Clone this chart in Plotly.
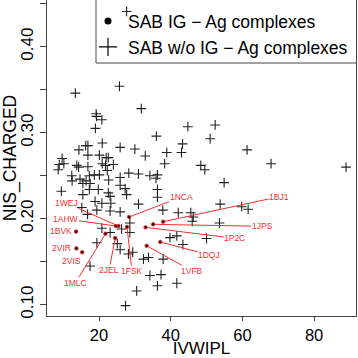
import plotly.graph_objects as go

# ---------------- data ----------------
# SAB w/o IG - Ag complexes (crosses)
other_ivwipl = [27.7, 13.4, 25.7, 31.8, 19.2, 19.3, 20.8, 19.0, 36.0, 44.8, 52.4, 43.3, 43.0, 51.0,
                61.3, 68.0, 88.9, 20.9, 16.3, 16.9, 14.4, 25.9, 30.0, 38.9, 16.9, 20.1, 22.0, 22.6,
                32.9, 9.7, 8.9, 10.2, 13.8, 14.3, 16.9, 20.9, 21.8, 24.0, 38.3, 8.6, 22.3, 48.4,
                49.5, 12.4, 12.5, 14.7, 16.4, 17.3, 18.7, 20.1, 22.7, 25.9, 28.3, 31.0, 34.2, 35.9,
                36.3, 54.9, 17.5, 15.5, 9.5, 15.5, 17.3, 19.8, 22.6, 27.3, 25.9, 27.7, 36.3, 36.3,
                23.1, 18.9, 20.8, 23.3, 31.0, 15.2, 19.4, 23.1, 25.9, 16.8, 37.8, 42.1, 45.6, 46.3,
                53.8, 59.8, 61.6, 46.0, 53.6, 28.6, 28.6, 20.8, 23.1, 39.8, 41.7, 50.0, 43.4, 19.4,
                25.1, 25.9, 28.2, 29.4, 32.4, 33.8, 17.5, 34.2, 37.3, 37.9, 36.3, 41.7, 30.5, 27.4,
                26.3]
other_nis = [0.441, 0.346, 0.354, 0.328, 0.322, 0.319, 0.315, 0.305, 0.296, 0.307, 0.309, 0.287, 0.277, 0.293,
             0.280, 0.264, 0.260, 0.288, 0.285, 0.285, 0.280, 0.283, 0.281, 0.277, 0.274, 0.274, 0.271, 0.271,
             0.273, 0.270, 0.263, 0.264, 0.262, 0.260, 0.2605, 0.264, 0.262, 0.263, 0.264, 0.257, 0.256, 0.262,
             0.257, 0.250, 0.244, 0.246, 0.244, 0.250, 0.251, 0.251, 0.245, 0.248, 0.253, 0.252, 0.250, 0.247,
             0.251, 0.242, 0.241, 0.241, 0.232, 0.228, 0.234, 0.234, 0.230, 0.235, 0.239, 0.228, 0.234, 0.225,
             0.226, 0.220, 0.218, 0.218, 0.217, 0.213, 0.210, 0.209, 0.208, 0.205, 0.210, 0.207, 0.207, 0.202,
             0.217, 0.214, 0.211, 0.197, 0.195, 0.195, 0.184, 0.189, 0.184, 0.178, 0.180, 0.177, 0.170, 0.172,
             0.171, 0.164, 0.159, 0.161, 0.153, 0.155, 0.145, 0.134, 0.135, 0.153, 0.122, 0.125, 0.116, 0.099,
             0.188]

# SAB IG - Ag complexes (labelled dots)
ig_pdb = ["1NCA", "1WEJ", "1AHW", "1FSK", "1BVK", "1MLC", "2JEL", "2VIR", "2VIS",
          "1BJ1", "1JPS", "1P2C", "1DQJ", "1VFB"]
ig_ivwipl = [28.4, 25.4, 24.7, 27.8, 13.6, 21.8, 24.5, 13.7, 15.3, 37.9, 35.1, 33.0, 37.1, 33.3]
ig_nis = [0.202, 0.1915, 0.1915, 0.1905, 0.185, 0.1825, 0.1775, 0.1655, 0.161,
          0.1965, 0.1935, 0.190, 0.173, 0.1685]

x_tick_vals = [20, 40, 60, 80]
y_tick_vals = [0.10, 0.15, 0.20, 0.25, 0.30, 0.35, 0.40, 0.45]
y_tick_text = ["0.10", "", "0.20", "", "0.30", "", "0.40", ""]

legend_names = ["SAB IG \u2212 Ag complexes", "SAB w/o IG \u2212 Ag complexes"]
x_title = "IVWIPL"
y_title = "NIS_CHARGED"

# ---------------- style ----------------
FONT = "Liberation Sans, Arial, Helvetica, sans-serif"
LABEL_FONT = "Liberation Sans Narrow, Arial Narrow, Liberation Sans, sans-serif"
RED = "#f23030"
AXIS = "#444444"

# label offsets in pixels (text centre relative to its dot), and whether a leader line is drawn
label_offsets = {
    "1NCA": (52, -20, True), "1WEJ": (-52, -23, True), "1AHW": (-50, -7, True),
    "1FSK": (5, 44, True), "1BVK": (-15, -1, False), "1MLC": (-30, 49, True),
    "2JEL": (-6, 32, True), "2VIR": (-15, 0, False), "2VIS": (-11, 9, False),
    "1BJ1": (116, -25, True), "1JPS": (109, 2, True), "1P2C": (89, 11, True),
    "1DQJ": (49, 13, True), "1VFB": (45, 25, True),
}

fig = go.Figure()

# legend-only entries
fig.add_trace(go.Scatter(x=[None], y=[None], mode="markers", name=legend_names[0],
                         marker=dict(symbol="circle", size=7, color="black")))
fig.add_trace(go.Scatter(x=[None], y=[None], mode="markers", name=legend_names[1],
                         marker=dict(symbol="cross-thin", size=13,
                                     line=dict(width=1.2, color="black"))))

fig.add_trace(go.Scatter(x=other_ivwipl, y=other_nis, mode="markers", showlegend=False,
                         marker=dict(symbol="cross-thin", size=7,
                                     line=dict(width=1.1, color="#222222"))))
fig.add_trace(go.Scatter(x=ig_ivwipl, y=ig_nis, mode="markers", showlegend=False,
                         marker=dict(symbol="circle", size=3.6, color="#300000",
                                     line=dict(width=0.8, color="#ff3030"))))

for name, xv, yv in zip(ig_pdb, ig_ivwipl, ig_nis):
    ox, oy, arrow = label_offsets[name]
    if arrow:
        fig.add_annotation(x=xv, y=yv, xref="x", yref="y", text=name, showarrow=True,
                           ax=ox, ay=oy, arrowhead=0, arrowwidth=1, arrowcolor=RED,
                           standoff=2, borderpad=0,
                           font=dict(family=LABEL_FONT, size=8.5, color=RED))
    else:
        fig.add_annotation(x=xv, y=yv, xref="x", yref="y", text=name, showarrow=False,
                           xshift=ox, yshift=-oy,
                           font=dict(family=LABEL_FONT, size=8.5, color=RED))

# legend frame (box top lies above the visible area)
fig.add_shape(type="line", xref="paper", yref="paper", x0=0.1586, x1=0.1586, y0=1.02, y1=0.8006,
              line=dict(color=AXIS, width=1))
fig.add_shape(type="line", xref="paper", yref="paper", x0=0.1586, x1=1.0, y0=0.8006, y1=0.8006,
              line=dict(color=AXIS, width=1))

fig.update_layout(
    width=358, height=358,
    margin=dict(l=47, r=2, t=0, b=42, autoexpand=False),
    paper_bgcolor="white", plot_bgcolor="white",
    font=dict(family=FONT, size=17, color="black"),
    legend=dict(x=0.1327, y=0.99, xanchor="left", yanchor="top",
                bgcolor="rgba(0,0,0,0)", borderwidth=0,
                font=dict(family=FONT, size=17.5, color="black"),
                tracegroupgap=0),
    xaxis=dict(range=[5.49, 91.69], tickvals=x_tick_vals, ticks="outside", ticklen=4,
               tickcolor=AXIS, showline=True, linecolor=AXIS, linewidth=1, mirror=False,
               showgrid=False, zeroline=False, tickfont=dict(size=16.5),
               title=dict(text=x_title, font=dict(size=17), standoff=4)),
    yaxis=dict(range=[0.0869, 0.4543], tickvals=y_tick_vals, ticktext=y_tick_text,
               tickangle=-90, ticks="outside", ticklen=6, tickcolor=AXIS,
               showline=True, linecolor=AXIS, linewidth=1, mirror=True,
               showgrid=False, zeroline=False, tickfont=dict(size=17),
               title=dict(text=y_title, font=dict(size=17.5), standoff=4)),
)

fig.write_html("out.html", config={"displayModeBar": False},
               post_script="document.body.style.margin='0';document.body.style.overflow='hidden';")
